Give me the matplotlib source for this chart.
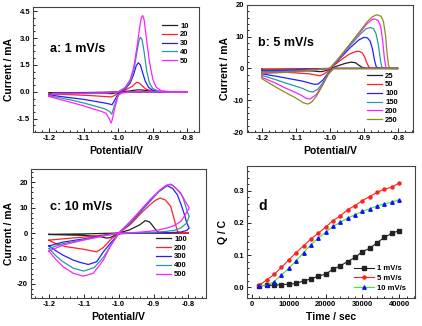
import matplotlib.pyplot as plt

plt.rcParams['font.family'] = ['Liberation Sans', 'DejaVu Sans']
plt.rcParams['font.weight'] = 'bold'
plt.rcParams['axes.labelweight'] = 'bold'

# colours used in the CV panels (in legend order)
cv_colors = ['#222222', '#ff2020', '#2020ff', '#2a9a9a', '#ff20ff', '#8c8c1c']

# ---- panel a : 1 mV/s, closed CV loops (E / V, I / mA) ----
a_labels = ['10', '20', '30', '40', '50']
a_loops = [
    [(-1.2, -0.05), (-1.1, -0.04), (-1.02, -0.02), (-1.0, 0.0), (-0.97, 0.04), (-0.95, 0.1),
     (-0.94, 0.11), (-0.93, 0.1), (-0.91, 0.05), (-0.89, 0.02), (-0.85, 0.0), (-0.8, 0.0),
     (-0.9, 0.0), (-0.98, -0.01), (-1.0, -0.03), (-1.02, -0.1), (-1.05, -0.08), (-1.1, -0.07),
     (-1.2, -0.06), (-1.2, -0.05)],
    [(-1.2, -0.12), (-1.19, -0.06), (-1.1, -0.05), (-1.03, -0.03), (-1.0, 0.0), (-0.98, 0.1),
     (-0.96, 0.3), (-0.947, 0.53), (-0.94, 0.5), (-0.93, 0.32), (-0.92, 0.15), (-0.9, 0.04),
     (-0.87, 0.0), (-0.8, 0.0), (-0.95, 0.0), (-0.99, -0.02), (-1.0, -0.05), (-1.01, -0.2),
     (-1.02, -0.28), (-1.04, -0.26), (-1.07, -0.22), (-1.1, -0.19), (-1.15, -0.15), (-1.2, -0.12)],
    [(-1.2, -0.17), (-1.19, -0.08), (-1.1, -0.07), (-1.03, -0.04), (-1.0, 0.0), (-0.98, 0.15),
     (-0.965, 0.5), (-0.955, 1.0), (-0.948, 1.45), (-0.942, 1.62), (-0.936, 1.5), (-0.93, 1.1),
     (-0.922, 0.6), (-0.912, 0.25), (-0.9, 0.08), (-0.88, 0.02), (-0.85, 0.0), (-0.8, 0.0),
     (-0.95, 0.0), (-0.99, -0.03), (-1.0, -0.1), (-1.01, -0.45), (-1.018, -0.72), (-1.025, -0.68),
     (-1.04, -0.62), (-1.07, -0.52), (-1.1, -0.42), (-1.15, -0.3), (-1.2, -0.17)],
    [(-1.2, -0.22), (-1.19, -0.1), (-1.1, -0.08), (-1.03, -0.05), (-1.0, 0.0), (-0.98, 0.2),
     (-0.965, 0.6), (-0.955, 1.2), (-0.946, 2.2), (-0.94, 2.85), (-0.936, 3.05), (-0.931, 2.9),
     (-0.925, 2.2), (-0.918, 1.2), (-0.91, 0.5), (-0.9, 0.18), (-0.885, 0.05), (-0.86, 0.01),
     (-0.8, 0.0), (-0.95, 0.0), (-0.99, -0.05), (-1.0, -0.15), (-1.01, -0.7), (-1.019, -1.25),
     (-1.025, -1.1), (-1.04, -0.94), (-1.07, -0.78), (-1.1, -0.62), (-1.14, -0.44), (-1.2, -0.22)],
    [(-1.2, -0.26), (-1.19, -0.12), (-1.1, -0.1), (-1.03, -0.06), (-1.0, 0.0), (-0.98, 0.25),
     (-0.965, 0.7), (-0.955, 1.4), (-0.945, 2.6), (-0.938, 3.6), (-0.933, 4.15), (-0.929, 4.25),
     (-0.925, 4.0), (-0.918, 2.9), (-0.91, 1.7), (-0.9, 0.7), (-0.89, 0.25), (-0.875, 0.06),
     (-0.85, 0.01), (-0.8, 0.0), (-0.95, 0.0), (-0.99, -0.06), (-1.0, -0.2), (-1.01, -0.9),
     (-1.018, -1.6), (-1.021, -1.74), (-1.026, -1.5), (-1.035, -1.2), (-1.05, -1.08),
     (-1.07, -0.97), (-1.1, -0.78), (-1.14, -0.57), (-1.17, -0.42), (-1.2, -0.26)],
]

# ---- panel b : 5 mV/s ----
b_labels = ['25', '50', '100', '150', '200', '250']
b_loops = [
    [(-1.2, -0.2), (-1.1, -0.15), (-1.0, 0.0), (-0.975, 0.9), (-0.955, 1.6), (-0.938, 2.0),
     (-0.925, 1.8), (-0.915, 1.0), (-0.905, 0.3), (-0.895, 0.05), (-0.8, 0.0), (-0.99, 0.0),
     (-1.005, -0.4), (-1.02, -0.9), (-1.03, -1.0), (-1.05, -0.8), (-1.1, -0.6), (-1.15, -0.5),
     (-1.2, -0.4), (-1.2, -0.2)],
    [(-1.2, -0.4), (-1.1, -0.3), (-1.0, 0.0), (-0.97, 2.5), (-0.945, 4.4), (-0.925, 5.3),
     (-0.915, 5.4), (-0.905, 4.9), (-0.898, 3.6), (-0.892, 1.8), (-0.886, 0.5), (-0.88, 0.05),
     (-0.8, 0.0), (-0.99, 0.0), (-1.005, -0.8), (-1.02, -1.9), (-1.03, -2.3), (-1.04, -2.1),
     (-1.06, -1.7), (-1.1, -1.4), (-1.15, -1.1), (-1.2, -0.9), (-1.2, -0.4)],
    [(-1.2, -0.8), (-1.1, -0.55), (-1.0, 0.0), (-0.97, 3.2), (-0.94, 6.6), (-0.915, 9.0),
     (-0.9, 9.8), (-0.89, 9.6), (-0.882, 8.6), (-0.875, 6.0), (-0.869, 2.5), (-0.864, 0.5),
     (-0.858, 0.05), (-0.8, 0.0), (-0.99, 0.0), (-1.005, -1.3), (-1.02, -3.6), (-1.035, -4.9),
     (-1.045, -5.0), (-1.06, -4.6), (-1.08, -4.0), (-1.1, -3.6), (-1.13, -3.0), (-1.16, -2.4),
     (-1.2, -1.7), (-1.2, -0.8)],
    [(-1.2, -1.1), (-1.1, -0.75), (-1.0, 0.0), (-0.97, 3.5), (-0.94, 7.3), (-0.91, 10.9),
     (-0.895, 12.4), (-0.882, 12.9), (-0.872, 12.5), (-0.865, 11.0), (-0.858, 7.5), (-0.852, 2.8),
     (-0.848, 0.5), (-0.843, 0.05), (-0.8, 0.0), (-0.99, 0.0), (-1.005, -1.6), (-1.02, -4.3),
     (-1.035, -6.5), (-1.05, -7.4), (-1.062, -7.2), (-1.08, -6.3), (-1.1, -5.6), (-1.13, -4.6),
     (-1.16, -3.5), (-1.2, -2.2), (-1.2, -1.1)],
    [(-1.2, -1.4), (-1.1, -0.95), (-1.0, 0.0), (-0.97, 3.7), (-0.94, 7.7), (-0.91, 11.6),
     (-0.89, 14.2), (-0.876, 15.4), (-0.868, 15.6), (-0.858, 15.0), (-0.851, 13.2), (-0.845, 8.5),
     (-0.84, 3.0), (-0.836, 0.5), (-0.832, 0.05), (-0.8, 0.0), (-0.99, 0.0), (-1.005, -1.8),
     (-1.02, -4.8), (-1.04, -8.2), (-1.058, -9.6), (-1.07, -9.4), (-1.085, -8.4), (-1.1, -7.6),
     (-1.13, -6.2), (-1.16, -4.6), (-1.2, -2.8), (-1.2, -1.4)],
    [(-1.2, -1.6), (-1.1, -1.1), (-1.0, 0.0), (-0.97, 3.8), (-0.94, 7.9), (-0.91, 12.0),
     (-0.89, 14.8), (-0.875, 16.3), (-0.862, 16.9), (-0.85, 16.4), (-0.843, 14.8), (-0.837, 10.5),
     (-0.832, 4.5), (-0.828, 1.0), (-0.824, 0.1), (-0.8, 0.0), (-0.99, 0.0), (-1.005, -1.9),
     (-1.02, -5.0), (-1.04, -8.8), (-1.055, -10.7), (-1.065, -11.2), (-1.078, -10.8),
     (-1.09, -10.0), (-1.105, -9.0), (-1.13, -7.6), (-1.155, -6.1), (-1.18, -4.5), (-1.2, -3.2),
     (-1.2, -1.6)],
]

# ---- panel c : 10 mV/s ----
c_labels = ['100', '200', '300', '400', '500']
c_loops = [
    [(-1.2, -0.5), (-1.1, -0.35), (-1.0, 0.0), (-0.97, 1.2), (-0.958, 2.0), (-0.939, 3.3),
     (-0.924, 4.9), (-0.912, 4.4), (-0.905, 3.3), (-0.897, 1.8), (-0.89, 0.7), (-0.883, 0.1),
     (-0.8, 0.0), (-0.99, 0.0), (-1.01, -0.8), (-1.025, -1.8), (-1.035, -2.0), (-1.05, -1.5),
     (-1.1, -0.9), (-1.2, -0.6), (-1.2, -0.5)],
    [(-1.2, -2.8), (-1.16, -2.3), (-1.1, -1.6), (-1.044, -0.8), (-1.0, 0.0), (-0.97, 3.0),
     (-0.958, 4.6), (-0.935, 8.0), (-0.91, 11.2), (-0.895, 12.9), (-0.881, 13.8), (-0.866, 13.0),
     (-0.851, 10.5), (-0.844, 7.0), (-0.837, 3.3), (-0.832, 0.8), (-0.828, 0.1), (-0.8, 0.0),
     (-0.99, 0.0), (-1.0, -0.2), (-1.02, -2.1), (-1.044, -5.7), (-1.063, -7.4), (-1.08, -7.0),
     (-1.1, -6.4), (-1.12, -6.0), (-1.15, -5.4), (-1.17, -4.6), (-1.19, -3.6), (-1.2, -2.8)],
    [(-1.2, -5.1), (-1.16, -3.6), (-1.1, -2.3), (-1.044, -1.0), (-1.0, 0.0), (-0.97, 3.5),
     (-0.94, 8.0), (-0.91, 12.6), (-0.885, 16.3), (-0.861, 18.7), (-0.845, 17.5), (-0.832, 15.1),
     (-0.822, 11.5), (-0.813, 7.9), (-0.805, 4.0), (-0.798, 2.0), (-0.805, 1.0), (-0.822, 0.4),
     (-0.86, 0.1), (-0.95, 0.0), (-1.0, -0.3), (-1.02, -3.4), (-1.044, -7.4), (-1.063, -11.3),
     (-1.087, -12.4), (-1.11, -11.6), (-1.13, -10.7), (-1.16, -8.7), (-1.18, -7.0), (-1.2, -5.1)],
    [(-1.2, -6.1), (-1.16, -4.2), (-1.1, -2.6), (-1.044, -1.1), (-1.0, 0.0), (-0.97, 3.7),
     (-0.94, 8.3), (-0.91, 13.0), (-0.88, 17.0), (-0.862, 18.9), (-0.851, 19.3), (-0.84, 18.2),
     (-0.822, 15.8), (-0.815, 13.5), (-0.808, 10.5), (-0.803, 8.2), (-0.798, 6.6), (-0.805, 4.0),
     (-0.822, 2.0), (-0.84, 1.1), (-0.861, 0.7), (-0.9, 0.3), (-0.95, 0.1), (-1.0, -0.2),
     (-1.02, -4.3), (-1.044, -9.6), (-1.07, -13.6), (-1.1, -15.0), (-1.13, -13.9), (-1.16, -11.3),
     (-1.18, -9.0), (-1.2, -6.1)],
    [(-1.2, -7.1), (-1.159, -4.7), (-1.101, -2.8), (-1.044, -1.2), (-1.0, 0.0), (-0.958, 5.9),
     (-0.91, 13.2), (-0.881, 17.1), (-0.865, 18.7), (-0.856, 19.1), (-0.845, 18.8), (-0.837, 17.8),
     (-0.827, 16.2), (-0.817, 14.5), (-0.808, 12.2), (-0.798, 9.9), (-0.81, 7.0), (-0.822, 4.6),
     (-0.84, 3.0), (-0.861, 2.0), (-0.89, 1.1), (-0.91, 0.7), (-0.95, 0.25), (-1.0, -0.1),
     (-1.025, -5.4), (-1.044, -10.7), (-1.073, -15.9), (-1.101, -17.0), (-1.13, -15.9),
     (-1.159, -13.3), (-1.18, -10.5), (-1.2, -7.1)],
]

# ---- panel d : charge vs time ----
time_s = [2000, 4000, 6000, 8000, 10000, 12000, 14000, 16000, 18000, 20000,
          22000, 24000, 26000, 28000, 30000, 32000, 34000, 36000, 38000, 40000]
q_1mv = [0.005, 0.006, 0.007, 0.008, 0.010, 0.012, 0.020, 0.026, 0.035, 0.041,
         0.056, 0.067, 0.080, 0.093, 0.111, 0.121, 0.139, 0.155, 0.168, 0.176]
q_5mv = [0.007, 0.023, 0.040, 0.062, 0.085, 0.108, 0.129, 0.150, 0.168, 0.187,
         0.207, 0.222, 0.241, 0.254, 0.269, 0.282, 0.295, 0.305, 0.311, 0.324]
q_10mv = [0.005, 0.007, 0.018, 0.038, 0.059, 0.083, 0.108, 0.132, 0.153, 0.171,
          0.189, 0.202, 0.215, 0.225, 0.236, 0.244, 0.253, 0.259, 0.265, 0.272]


def style(ax, xlim, ylim, xticks, yticks, xfmt, yfmt):
    ax.set_xlim(xlim)
    ax.set_ylim(ylim)
    ax.set_xticks(xticks)
    ax.set_xticklabels([xfmt.format(v) for v in xticks])
    ax.set_yticks(yticks)
    ax.set_yticklabels([yfmt.format(v) for v in yticks])
    ax.minorticks_on()
    ax.tick_params(which='both', direction='in', labelsize=5.5, pad=2, width=0.6)
    ax.tick_params(which='major', length=3)
    ax.tick_params(which='minor', length=1.6)
    for s in ax.spines.values():
        s.set_linewidth(0.8)
        s.set_color('#444444')


fig = plt.figure(figsize=(4.22, 3.26), dpi=100)
ax_a = fig.add_axes([0.078, 0.595, 0.393, 0.383])
ax_b = fig.add_axes([0.585, 0.595, 0.393, 0.390])
ax_c = fig.add_axes([0.073, 0.086, 0.415, 0.396])
ax_d = fig.add_axes([0.585, 0.086, 0.398, 0.405])

cv_x = [-1.2, -1.1, -1.0, -0.9, -0.8]

panels = [
    (ax_a, a_labels, a_loops, (-1.247, -0.767), (-2.24, 4.72), [-1.5, 0.0, 1.5, 3.0, 4.5], '{:.1f}',
     'a: 1 mV/s', (-1.197, 2.39), (0.777, 0.88)),
    (ax_b, b_labels, b_loops, (-1.244, -0.757), (-20, 20), [-20, -10, 0, 10, 20], '{:.0f}',
     'b: 5 mV/s', (-1.212, 8.0), (0.723, 0.47)),
    (ax_c, c_labels, c_loops, (-1.252, -0.75), (-25.6, 25.3), [-20, -10, 0, 10, 20], '{:.0f}',
     'c: 10 mV/s', (-1.197, 10.1), (0.714, 0.485)),
]

for ax, labels, loops, xl, yl, yt, yfmt, title, tpos, lpos in panels:
    for i, (lab, pts) in enumerate(zip(labels, loops)):
        ax.plot([p[0] for p in pts], [p[1] for p in pts], color=cv_colors[i], lw=0.9, label=lab)
    style(ax, xl, yl, cv_x, yt, '{:.1f}', yfmt)
    ax.set_xlabel('Potential/V', fontsize=7.5, labelpad=3)
    ax.set_ylabel('Current / mA', fontsize=7.5, labelpad=2)
    ax.text(tpos[0], tpos[1], title, fontsize=9, fontweight='bold', va='center')
    ax.legend(loc='upper left', bbox_to_anchor=lpos, frameon=False, fontsize=5.5,
              handlelength=2.0, labelspacing=0.2, borderpad=0, borderaxespad=0,
              handletextpad=0.4)

ax_d.plot(time_s, q_1mv, '-s', color='#222222', lw=0.8, ms=2.2, label='1 mV/s')
ax_d.plot(time_s, q_5mv, '-o', color='#ff2020', lw=0.8, ms=2.2, label='5 mV/s')
ax_d.plot(time_s, q_10mv, '-^', color='#33ee33', mfc='#1010ff', mec='#1010ff', lw=0.8, ms=2.5,
          label='10 mV/s')
style(ax_d, (-1400, 44260), (-0.033, 0.377), [0, 10000, 20000, 30000, 40000],
      [0.0, 0.1, 0.2, 0.3], '{:.0f}', '{:.1f}')
ax_d.set_xlabel('Time / sec', fontsize=7.5, labelpad=3)
ax_d.set_ylabel('Q / C', fontsize=7.5, labelpad=4)
ax_d.text(1600, 0.253, 'd', fontsize=10, fontweight='bold', va='center')
ax_d.legend(loc='upper left', bbox_to_anchor=(0.64, 0.25), frameon=False, fontsize=5.5,
            handlelength=2.6, labelspacing=0.3, borderpad=0, borderaxespad=0,
            handletextpad=0.4, numpoints=1)

fig.savefig('out.png', dpi=100)
